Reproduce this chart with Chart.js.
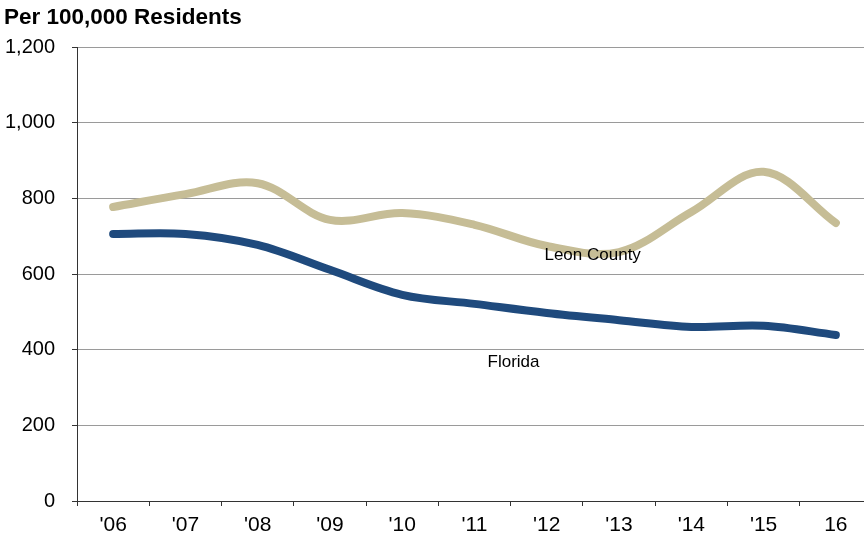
<!DOCTYPE html>
<html>
<head>
<meta charset="utf-8">
<script src="https://cdn.jsdelivr.net/npm/chart.js@4"></script>
<style>
  html, body { margin: 0; padding: 0; background: #fff; overflow: hidden; }
  #wrap { width: 873px; height: 538px; position: relative; }
</style>
</head>
<body>
<div id="wrap"><canvas id="rateChart"></canvas></div>
<script>
const years = ["'06", "'07", "'08", "'09", "'10", "'11", "'12", "'13", "'14", "'15", "16"];
const leonCounty = [777, 811, 840, 743, 761, 730, 674, 658, 764, 870, 735];
const florida = [706, 706, 677, 611, 545, 521, 497, 478, 460, 463, 439];
const yTicks = [0, 200, 400, 600, 800, 1000, 1200];

// line labels placed on the scales (index, value)
const lineLabels = [
    { text: 'Leon County', at: 6.635, value: 650 },
    { text: 'Florida', at: 5.54, value: 367 }
];

const FONT = "'Liberation Sans', Arial, sans-serif";

const labelPlugin = {
    id: 'lineLabels',
    afterDatasetsDraw(chart) {
        const c = chart.ctx;
        const xs = chart.scales.x, ys = chart.scales.y;
        c.save();
        c.font = '17px ' + FONT;
        c.fillStyle = '#000';
        c.textAlign = 'center';
        c.textBaseline = 'middle';
        lineLabels.forEach(l => {
            c.fillText(l.text, xs.getPixelForValue(l.at), ys.getPixelForValue(l.value));
        });
        c.restore();
    }
};

new Chart(document.getElementById('rateChart'), {
    type: 'line',
    data: {
        labels: years,
        datasets: [
            {
                label: 'Leon County',
                data: leonCounty,
                borderColor: '#C6BD96',
                borderWidth: 8,
                borderCapStyle: 'round',
                pointRadius: 0,
                tension: 0.35,
                fill: false
            },
            {
                label: 'Florida',
                data: florida,
                borderColor: '#1F4A7D',
                borderWidth: 8,
                borderCapStyle: 'round',
                pointRadius: 0,
                tension: 0.35,
                fill: false
            }
        ]
    },
    options: {
        responsive: true,
        maintainAspectRatio: false,
        animation: false,
        layout: { padding: { left: 4, right: 1, top: 0, bottom: 0 } },
        plugins: {
            legend: { display: false },
            tooltip: { enabled: false },
            title: {
                display: true,
                text: 'Per 100,000 Residents',
                align: 'start',
                color: '#000',
                font: { family: FONT, size: 22.5, weight: 'bold' },
                padding: { top: 4, bottom: 16 }
            }
        },
        scales: {
            x: {
                offset: true,
                afterFit(axis) { axis.height = 37; },
                grid: {
                    offset: true,
                    drawOnChartArea: false,
                    drawTicks: true,
                    tickLength: 5,
                    tickColor: '#333'
                },
                border: { color: '#333', width: 1 },
                ticks: {
                    color: '#000',
                    font: { family: FONT, size: 21 },
                    padding: 7,
                    maxRotation: 0,
                    autoSkip: false
                }
            },
            y: {
                min: 0,
                max: 1200,
                afterFit(axis) { axis.width = 73; },
                afterBuildTicks(axis) {
                    axis.ticks = yTicks.map(v => ({ value: v }));
                },
                grid: {
                    color: '#9a9a9a',
                    lineWidth: 1,
                    drawTicks: true,
                    tickLength: 5,
                    tickColor: '#333'
                },
                border: { color: '#333', width: 1 },
                ticks: {
                    color: '#000',
                    font: { family: FONT, size: 20 },
                    padding: 17,
                    callback: v => v.toLocaleString('en-US')
                }
            }
        }
    },
    plugins: [labelPlugin]
});
</script>
</body>
</html>
